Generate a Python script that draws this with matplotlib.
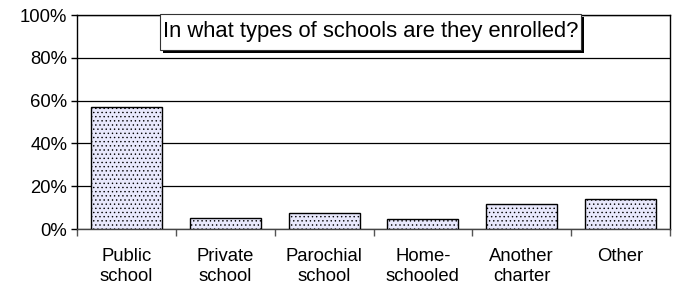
import matplotlib
matplotlib.use("Agg")
import matplotlib.pyplot as plt
from matplotlib.patches import Rectangle
import numpy as np

categories = ["Public\nschool", "Private\nschool", "Parochial\nschool", "Home-\nschooled", "Another\ncharter", "Other"]
values = [57.2, 5.3, 7.3, 4.5, 11.9, 14.1]
yticks = [0, 20, 40, 60, 80, 100]
ytick_labels = ["0%", "20%", "40%", "60%", "80%", "100%"]
title = "In what types of schools are they enrolled?"

plt.rcParams['font.family'] = ['Liberation Sans', 'DejaVu Sans']
plt.rcParams['hatch.color'] = '#b4b4f6'
plt.rcParams['hatch.linewidth'] = 0.5

W, H = 673, 291
fig = plt.figure(figsize=(W/100, H/100), dpi=100)
ax = fig.add_axes([77/W, 1-229/H, (670-77)/W, (229-15)/H])

x = np.arange(len(categories))
ax.bar(x, values, width=0.72, color='#e8e8fc', edgecolor='black', linewidth=1.0,
       hatch='....', zorder=3)
ax.set_xlim(-0.5, len(categories)-0.5)
ax.set_ylim(0, 100)
ax.set_yticks(yticks)
ax.set_yticklabels(ytick_labels, fontsize=13.3)
ax.yaxis.grid(True, color='black', linewidth=0.9, zorder=0)
ax.set_axisbelow(True)

ax.set_xticks(x)
ax.set_xticklabels(categories, fontsize=13.3, linespacing=1.22)
ax.tick_params(axis='x', length=0, pad=14)
ax.set_xticks(np.arange(-0.5, len(categories)), minor=True)
ax.tick_params(axis='x', which='minor', length=5, color='#555555', width=1)
ax.tick_params(axis='y', length=4, width=1, color='black', pad=3)

for s in ax.spines.values():
    s.set_color('black')
    s.set_linewidth(1.0)
ax.spines['bottom'].set_color('#444444')

# title box with shadow (figure pixel coords)
bx0, bx1, by0, by1 = 160, 581, 14, 50
def fr(x0, y0, x1, y1, **kw):
    return Rectangle((x0/W, 1-y1/H), (x1-x0)/W, (y1-y0)/H, transform=fig.transFigure, **kw)
fig.patches.append(fr(bx0+3, by0+3, bx1+3, by1+3, facecolor='black', edgecolor='none', zorder=5))
fig.patches.append(fr(bx0, by0, bx1, by1, facecolor='white', edgecolor='#333333', linewidth=0.8, zorder=6))
fig.text((bx0+bx1)/2/W, 1-(by0+by1)/2/H, title, ha='center', va='center', fontsize=15.8, zorder=7)

fig.savefig("out.png", dpi=100)
